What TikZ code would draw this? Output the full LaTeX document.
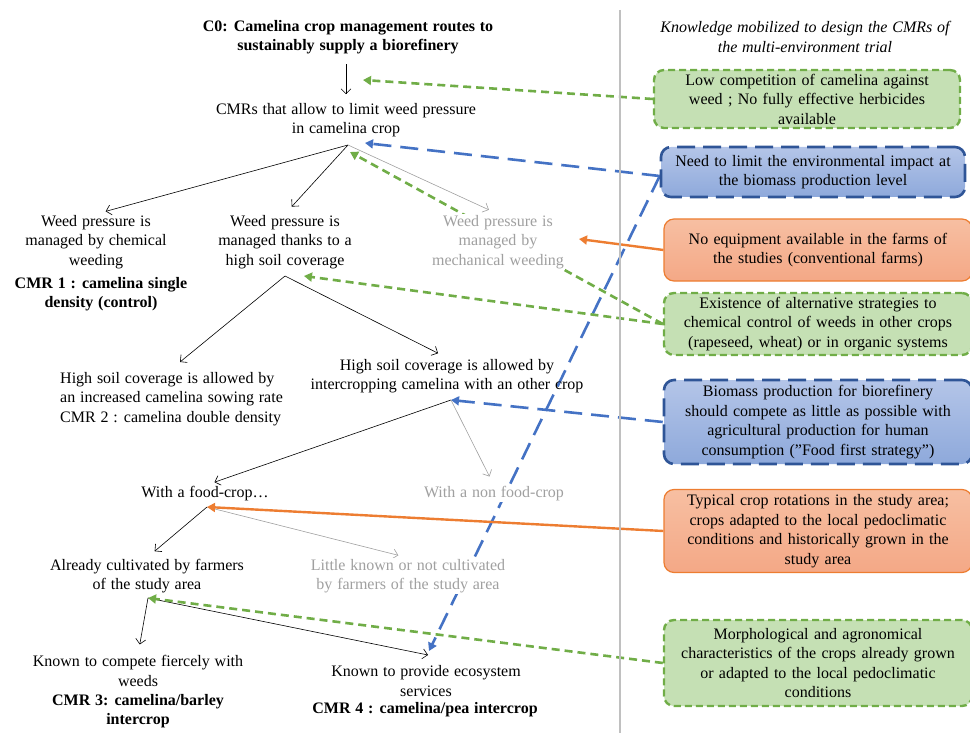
\documentclass[tikz,border=0pt]{standalone}
\usepackage{fontspec}
\setmainfont{Liberation Serif}
\usetikzlibrary{arrows.meta}
\pgfdeclarelayer{bg}
\pgfsetlayers{bg,main}
\definecolor{gline}{HTML}{70AD47}
\definecolor{gfill}{HTML}{C5E0B4}
\definecolor{bline}{HTML}{4472C4}
\definecolor{bdark}{HTML}{2F5597}
\definecolor{btop}{HTML}{B4C5E8}
\definecolor{bbot}{HTML}{8EA9DB}
\definecolor{oline}{HTML}{ED7D31}
\definecolor{otop}{HTML}{F7BFA2}
\definecolor{obot}{HTML}{F4A886}
\definecolor{gtext}{HTML}{A0A0A0}
\definecolor{sep}{HTML}{C0C0C0}
\newcommand{\txtfont}{\fontsize{16}{19.5}\selectfont\spaceskip=0.3em plus 0.1em\relax}
\tikzset{
  txt/.style={font=\txtfont, align=center, inner sep=1pt},
  bld/.style={txt, font=\txtfont\bfseries},
  gry/.style={txt, text=gtext, fill=white},
  hdr/.style={txt, font=\txtfont\itshape},
  box/.style={txt, rounded corners=10pt, minimum height=#1, text width=300pt, inner xsep=2pt},
  gbox/.style={box=#1, draw=gline, fill=gfill, line width=2.4pt, dash pattern=on 7pt off 4pt},
  bbox/.style={box=#1, draw=bdark, top color=btop, bottom color=bbot, line width=2.6pt, dash pattern=on 18pt off 8pt},
  obox/.style={box=#1, draw=oline, top color=otop, bottom color=obot, line width=1.2pt},
  arr/.style={draw=black, line width=0.6pt, shorten >=10pt, -{Straight Barb[length=5pt,width=10pt,line width=0.6pt]}},
  garr/.style={arr, draw=gtext},
  gcon/.style={draw=gline, line width=2.6pt, dash pattern=on 8pt off 5pt, -{Triangle[length=8pt,width=9pt]}},
  bcon/.style={draw=bline, line width=2.6pt, dash pattern=on 18pt off 9pt, -{Triangle[length=8pt,width=9pt]}},
  ocon/.style={draw=oline, line width=2.4pt, -{Triangle[length=8pt,width=9pt]}},
}
\begin{document}
\begin{tikzpicture}[x=1pt,y=-1pt]
\useasboundingbox (0,0) rectangle (970,733);
% separator
\draw[sep, line width=1.6pt] (620,10) -- (620,733);
% left tree nodes
\node[bld] (c0) at (348,37) {C0: Camelina crop management routes to\\sustainably supply a biorefinery};
\node[txt] (cmr) at (346,120) {CMRs that allow to limit weed pressure\\in camelina crop};
\node[txt] (chem) at (96,242) {Weed pressure is\\managed by chemical\\weeding};
\node[bld] (cmr1) at (101,294) {CMR 1 : camelina single\\density (control)};
\node[txt] (soil) at (285,242) {Weed pressure is\\managed thanks to a\\high soil coverage};
\node[gry] (mech) at (498,242) {Weed pressure is\\managed by\\mechanical weeding};
\node[txt, align=left, anchor=west] (incr) at (59,399) {High soil coverage is allowed by\\an increased camelina sowing rate\\CMR 2 : camelina double density};
\node[txt] (inter) at (447,376) {High soil coverage is allowed by\\intercropping camelina with an other crop};
\node[txt] (food) at (205,494) {With a food-crop\ldots};
\node[gry] (nonfood) at (494,494) {With a non food-crop};
\node[txt] (already) at (147,576) {Already cultivated by farmers\\of the study area};
\node[gry] (little) at (408,576) {Little known or not cultivated\\by farmers of the study area};
\node[txt] (compete) at (138,671) {Known to compete fiercely with\\weeds};
\node[bld] (cmr3) at (138,711) {CMR 3: camelina/barley\\intercrop};
\node[txt] (provide) at (426,681) {Known to provide ecosystem\\services};
\node[bld] (cmr4) at (425,710) {CMR 4 : camelina/pea intercrop};
% right column
\node[hdr] (head) at (805,37) {Knowledge mobilized to design the CMRs of\\the multi-environment trial};
\node[gbox=58pt, text width=302pt] (k1) at (807,99) {Low competition of camelina against\\weed ; No fully effective herbicides\\available};
\node[bbox=50pt] (k2) at (813,172) {Need to limit the environmental impact at\\the biomass production level};
\node[obox=62pt, text width=304pt] (k3) at (818,250) {No equipment available in the farms of\\the studies (conventional farms)};
\node[gbox=62pt, text width=304pt] (k4) at (818,324) {Existence of alternative strategies to\\chemical control of weeds in other crops\\(rapeseed, wheat) or in organic systems};
\node[bbox=84pt, text width=304pt] (k5) at (818,422) {Biomass production for biorefinery\\should compete as little as possible with\\agricultural production for human\\consumption (''Food first strategy'')};
\node[obox=83pt, text width=304pt] (k6) at (818,531) {Typical crop rotations in the study area;\\crops adapted to the local pedoclimatic\\conditions and historically grown in the\\study area};
\node[gbox=86pt, text width=304pt] (k7) at (818,663) {Morphological and agronomical\\characteristics of the crops already grown\\or adapted to the local pedoclimatic\\conditions};
% junction coordinates
\coordinate (j0) at (348,145);
\coordinate (j1) at (285,276);
\coordinate (j2) at (451,400);
\coordinate (j3) at (207,507);
\coordinate (j4) at (148,598);
\coordinate (tc0) at (363,80);
\coordinate (tb0) at (365,143);
\coordinate (tg0) at (350,152);
\coordinate (tg1) at (304,276);
\coordinate (tm) at (579,239);
\coordinate (tp) at (429,651);
% tree connectors
\begin{pgfonlayer}{bg}
\draw[arr, shorten >=0pt] (c0.south) ++(-2,9) -- ++(0,30);
\draw[arr] (j0) -- (chem.north);
\draw[arr] (j0) -- (soil.north);
\draw[garr] (j0) -- (mech.north);
\draw[arr, shorten >=0pt] (j1) -- (180,362);
\draw[arr] (j1) -- (inter.north);
\draw[arr] (j2) -- (food.north);
\draw[garr] (j2) -- (nonfood.north);
\draw[arr] (j3) -- (already.north);
\draw[garr] (j3) -- (little.north);
\draw[arr] (j4) -- (compete.north);
\draw[arr, shorten >=0pt] (j4) -- (428,655);
% knowledge connectors
\draw[gcon] (k1.west) -- (tc0);
\draw[bcon] ([yshift=-4pt]k2.west) -- (tb0);
\draw[bcon] ([yshift=-4pt]k2.west) -- (tp);
\draw[ocon] (k3.west) -- (tm);
\draw[gcon] (k4.west) -- (tg0);
\draw[gcon] (k4.west) -- (tg1);
\draw[bcon] (k5.west) -- (j2);
\draw[ocon] (k6.west) -- (j3);
\draw[gcon] (k7.west) -- (j4);
\end{pgfonlayer}
\end{tikzpicture}
\end{document}
